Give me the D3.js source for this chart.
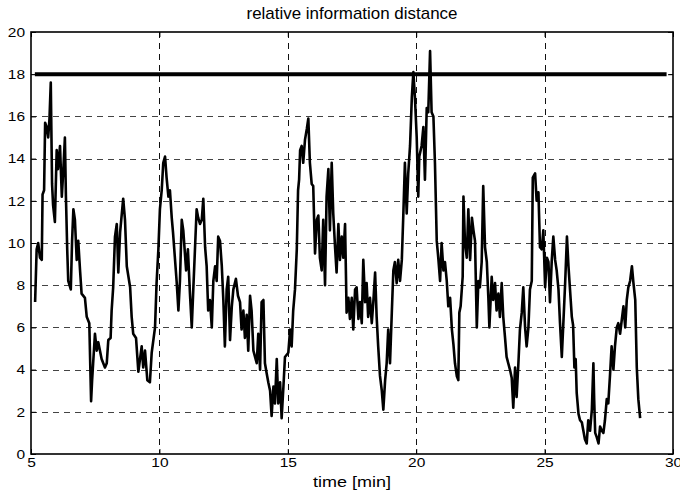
<!DOCTYPE html>
<html>
<head>
<meta charset="utf-8">
<script src="https://cdn.jsdelivr.net/npm/d3@7"></script>
<style>
  html, body { margin: 0; padding: 0; background: #fff; }
  svg { display: block; }
  text { font-family: "Liberation Sans", Arial, Helvetica, sans-serif; fill: #000; }
</style>
</head>
<body>
<svg id="chart" width="680" height="494"></svg>
<script>
// Relative information distance over time
const xDomain = [5, 30];
const yDomain = [0, 20];
const xTicks = [5, 10, 15, 20, 25, 30];
const yTicks = [0, 2, 4, 6, 8, 10, 12, 14, 16, 18, 20];

const titleText = "relative information distance";
const xLabelText = "time [min]";

// threshold level and the time span it is drawn over
const thresholdValue = 18;
const thresholdSpan = [5.15, 29.75];

// time samples [min]
const timeMin = [
  5.16, 5.22, 5.28, 5.35, 5.42, 5.45, 5.51, 5.55, 5.61, 5.67, 5.72, 5.77, 5.82, 5.86, 5.93,
  6.00, 6.05, 6.13, 6.20, 6.26, 6.32, 6.36, 6.41, 6.45, 6.55, 6.60, 6.65, 6.71, 6.78, 6.84,
  6.91, 6.97, 7.10, 7.17, 7.27, 7.34, 7.38, 7.49, 7.56, 7.62, 7.75, 7.88, 7.95, 8.01, 8.10,
  8.14, 8.20, 8.27, 8.34, 8.40, 8.47, 8.59, 8.66, 8.73, 8.86, 8.92, 8.98, 9.09, 9.18, 9.31,
  9.37, 9.44, 9.53, 9.63, 9.70, 9.83, 9.89, 9.96, 10.02, 10.09, 10.15, 10.22, 10.28, 10.35, 10.41,
  10.48, 10.53, 10.67, 10.74, 10.80, 10.87, 10.93, 11.04, 11.11, 11.19, 11.26, 11.32, 11.45, 11.51, 11.58,
  11.65, 11.71, 11.78, 11.84, 11.90, 11.97, 12.04, 12.10, 12.17, 12.23, 12.29, 12.36, 12.43, 12.49, 12.55,
  12.62, 12.68, 12.75, 12.82, 12.88, 12.98, 13.06, 13.14, 13.20, 13.27, 13.33, 13.40, 13.46, 13.53, 13.59,
  13.66, 13.79, 13.85, 13.92, 13.98, 14.05, 14.11, 14.18, 14.24, 14.31, 14.37, 14.44, 14.50, 14.57, 14.63,
  14.70, 14.76, 14.83, 14.89, 15.02, 15.09, 15.15, 15.21, 15.28, 15.35, 15.40, 15.44, 15.48, 15.54, 15.60,
  15.67, 15.74, 15.80, 15.86, 15.93, 15.99, 16.06, 16.13, 16.19, 16.25, 16.32, 16.38, 16.45, 16.51, 16.58,
  16.64, 16.71, 16.77, 16.84, 16.90, 16.97, 17.03, 17.10, 17.16, 17.23, 17.29, 17.36, 17.42, 17.49, 17.55,
  17.62, 17.68, 17.75, 17.81, 17.88, 17.94, 18.01, 18.07, 18.13, 18.20, 18.27, 18.33, 18.40, 18.46, 18.52,
  18.59, 18.66, 18.72, 18.79, 18.85, 18.91, 18.98, 19.05, 19.11, 19.17, 19.24, 19.30, 19.37, 19.44, 19.50,
  19.56, 19.63, 19.69, 19.76, 19.83, 19.89, 19.95, 20.02, 20.08, 20.12, 20.21, 20.28, 20.34, 20.41, 20.47,
  20.54, 20.60, 20.67, 20.73, 20.80, 20.86, 20.93, 20.99, 21.06, 21.12, 21.19, 21.25, 21.32, 21.39, 21.45,
  21.51, 21.58, 21.64, 21.68, 21.73, 21.81, 21.84, 21.90, 21.97, 22.03, 22.10, 22.17, 22.23, 22.29, 22.36,
  22.42, 22.48, 22.55, 22.61, 22.68, 22.75, 22.81, 22.85, 22.94, 23.00, 23.07, 23.13, 23.20, 23.26, 23.33,
  23.39, 23.46, 23.52, 23.65, 23.72, 23.78, 23.85, 23.91, 23.98, 24.04, 24.11, 24.17, 24.24, 24.30, 24.37,
  24.43, 24.50, 24.54, 24.63, 24.69, 24.76, 24.82, 24.89, 24.95, 25.02, 25.09, 25.15, 25.21, 25.28, 25.34,
  25.41, 25.47, 25.54, 25.60, 25.67, 25.73, 25.80, 25.87, 25.93, 26.00, 26.06, 26.11, 26.16, 26.21, 26.25,
  26.32, 26.38, 26.45, 26.51, 26.57, 26.64, 26.70, 26.77, 26.84, 26.90, 26.93, 26.97, 27.03, 27.10, 27.16,
  27.23, 27.29, 27.35, 27.42, 27.48, 27.55, 27.61, 27.68, 27.74, 27.81, 27.87, 27.94, 28.01, 28.07, 28.14,
  28.20, 28.26, 28.33, 28.40, 28.46, 28.53, 28.59, 28.65, 28.72
];

// relative information distance at each sample
const distance = [
  7.2, 9.7, 10.0, 9.3, 9.2, 12.3, 12.5, 15.7, 15.5, 15.0, 15.9, 17.6, 12.8, 11.8, 11.0,
  14.4, 13.5, 14.6, 12.2, 13.5, 15.0, 12.2, 9.7, 8.2, 7.8, 10.1, 11.6, 11.1, 9.2, 10.1,
  8.7, 7.6, 7.4, 6.5, 6.2, 2.5, 3.5, 5.7, 4.9, 5.3, 4.5, 4.1, 4.3, 5.4, 5.5,
  6.8, 7.9, 10.3, 10.9, 8.6, 10.5, 12.1, 11.1, 8.9, 7.9, 6.5, 5.7, 5.5, 3.9, 5.1,
  4.1, 4.9, 3.5, 3.4, 4.8, 6.0, 8.1, 9.7, 11.6, 12.5, 13.8, 14.1, 13.1, 12.2, 12.5,
  11.2, 10.5, 8.2, 6.8, 8.2, 11.1, 10.6, 8.7, 9.7, 7.6, 6.0, 7.8, 11.6, 11.2, 10.9,
  11.1, 12.1, 9.8, 8.9, 6.8, 7.3, 6.0, 8.2, 8.9, 8.2, 10.3, 10.1, 8.9, 7.3, 5.1,
  7.8, 8.4, 5.4, 7.0, 7.8, 8.3, 7.5, 7.2, 5.9, 6.8, 5.5, 6.6, 4.9, 7.5, 6.8,
  4.9, 4.3, 5.7, 4.0, 7.2, 7.3, 4.3, 3.8, 3.4, 3.0, 1.8, 3.2, 2.4, 4.5, 2.4,
  3.4, 1.7, 3.2, 4.6, 4.8, 5.9, 5.1, 6.8, 7.8, 9.7, 12.5, 13.0, 14.4, 14.6, 13.8,
  14.9, 15.4, 15.9, 13.8, 12.8, 12.7, 9.5, 11.1, 11.3, 9.3, 8.7, 11.1, 8.0, 12.2, 13.5,
  10.6, 13.8, 11.4, 9.8, 8.6, 10.9, 9.2, 10.3, 9.3, 10.9, 6.7, 7.4, 6.4, 7.4, 5.9,
  7.8, 7.9, 6.4, 7.2, 6.2, 9.2, 7.2, 8.1, 6.5, 7.4, 6.2, 7.2, 8.6, 6.5, 5.1,
  3.7, 3.0, 2.1, 3.5, 4.3, 5.9, 4.3, 6.7, 8.7, 9.1, 8.1, 9.2, 8.2, 9.2, 11.4,
  13.8, 11.4, 13.3, 14.6, 16.9, 18.1, 16.9, 15.0, 12.2, 14.1, 14.6, 15.5, 13.0, 16.4, 16.2,
  19.1, 16.2, 16.0, 13.8, 10.1, 9.3, 8.2, 10.0, 8.7, 9.1, 8.2, 7.0, 7.4, 5.9, 5.2,
  4.3, 3.7, 3.5, 6.7, 7.0, 8.4, 12.2, 10.0, 9.3, 11.6, 9.2, 11.2, 10.6, 10.1, 6.0,
  8.2, 7.9, 9.1, 12.7, 9.8, 9.1, 7.4, 6.0, 8.4, 7.3, 8.1, 6.8, 7.6, 6.5, 8.1,
  6.5, 5.5, 4.6, 4.0, 3.6, 2.2, 4.1, 2.7, 4.3, 5.9, 6.7, 7.9, 6.0, 5.1, 6.0,
  7.8, 8.2, 13.1, 13.3, 12.0, 12.4, 9.8, 9.7, 10.6, 7.9, 9.3, 9.1, 7.2, 9.2, 10.3,
  9.2, 8.7, 7.8, 6.2, 4.6, 6.2, 8.1, 10.3, 8.9, 7.6, 6.5, 6.1, 4.1, 4.5, 2.9,
  1.9, 1.6, 1.5, 1.1, 0.7, 0.5, 1.6, 1.1, 2.1, 4.3, 2.6, 1.0, 0.8, 0.5, 1.3,
  1.1, 1.0, 1.6, 2.6, 2.4, 3.8, 5.1, 4.0, 5.1, 6.0, 6.2, 5.7, 6.4, 7.0, 6.0,
  7.3, 7.9, 8.2, 8.9, 8.1, 7.3, 4.1, 2.6, 1.7
];

const svg = d3.select("#chart");
const plot = { left: 31, right: 673, top: 32, bottom: 454 };

const x = d3.scaleLinear().domain(xDomain).range([plot.left, plot.right]);
const y = d3.scaleLinear().domain(yDomain).range([plot.bottom, plot.top]);

// the labels are set in a slightly wide face: stretch glyphs horizontally
const labelStretch = 1.15;

// dashed grid
const grid = svg.append("g").attr("class", "grid")
  .attr("stroke-width", 1).attr("stroke-dasharray", "6,5");
grid.selectAll("line.v").data(xTicks.filter(t => t > xDomain[0] && t < xDomain[1]))
  .enter().append("line").attr("class", "v")
  .attr("stroke", "#111")
  .attr("x1", d => Math.round(x(d)) + 0.5).attr("x2", d => Math.round(x(d)) + 0.5)
  .attr("y1", plot.top).attr("y2", plot.bottom);
grid.selectAll("line.h").data(yTicks.filter(t => t > yDomain[0] && t < yDomain[1]))
  .enter().append("line").attr("class", "h")
  .attr("stroke", "#444")
  .attr("y1", d => Math.round(y(d)) + 0.5).attr("y2", d => Math.round(y(d)) + 0.5)
  .attr("x1", plot.left).attr("x2", plot.right);

// axes with inward ticks on all four sides
const tickLen = 5;
const fontSize = 13.5;
const axisBottom = d3.axisBottom(x).tickValues(xTicks).tickSize(-tickLen).tickPadding(3).tickFormat(d3.format("d"));
const axisTop = d3.axisTop(x).tickValues(xTicks).tickSize(-tickLen).tickFormat("");
const axisLeft = d3.axisLeft(y).tickValues(yTicks).tickSize(-tickLen).tickPadding(5.2).tickFormat(d3.format("d"));
const axisRight = d3.axisRight(y).tickValues(yTicks).tickSize(-tickLen).tickFormat("");

function styleAxis(g) {
  g.select(".domain").remove();
  g.selectAll(".tick line").attr("stroke", "#000").attr("stroke-width", 1);
  g.selectAll("text").attr("font-size", fontSize).attr("fill", "#000")
    .attr("font-family", "'Liberation Sans', Arial, sans-serif")
    .attr("transform", `scale(${labelStretch},1)`);
}

svg.append("g").attr("transform", `translate(0,${plot.bottom})`).call(axisBottom).call(styleAxis);
svg.append("g").attr("transform", `translate(0,${plot.top})`).call(axisTop).call(styleAxis);
svg.append("g").attr("transform", `translate(${plot.left},0)`).call(axisLeft).call(styleAxis);
svg.append("g").attr("transform", `translate(${plot.right},0)`).call(axisRight).call(styleAxis);

// plot frame
svg.append("rect")
  .attr("x", plot.left).attr("y", plot.top)
  .attr("width", plot.right - plot.left).attr("height", plot.bottom - plot.top)
  .attr("fill", "none").attr("stroke", "#000").attr("stroke-width", 1.6);

// threshold line
svg.append("line")
  .attr("x1", x(thresholdSpan[0])).attr("x2", x(thresholdSpan[1]))
  .attr("y1", y(thresholdValue)).attr("y2", y(thresholdValue))
  .attr("stroke", "#000").attr("stroke-width", 4);

// distance series
const series = timeMin.map((t, i) => [t, distance[i]]);
const line = d3.line().x(d => x(d[0])).y(d => y(d[1]));
svg.append("path")
  .datum(series)
  .attr("d", line)
  .attr("fill", "none")
  .attr("stroke", "#000")
  .attr("stroke-width", 2.6)
  .attr("stroke-linejoin", "round");

// title and axis label
const cx = (plot.left + plot.right) / 2;
svg.append("text")
  .attr("transform", `translate(${cx},18.5) scale(1.06,1)`)
  .attr("text-anchor", "middle").attr("font-size", 16)
  .text(titleText);

svg.append("text")
  .attr("transform", `translate(${cx},487) scale(1.2,1)`)
  .attr("text-anchor", "middle").attr("font-size", 15)
  .text(xLabelText);
</script>
</body>
</html>
